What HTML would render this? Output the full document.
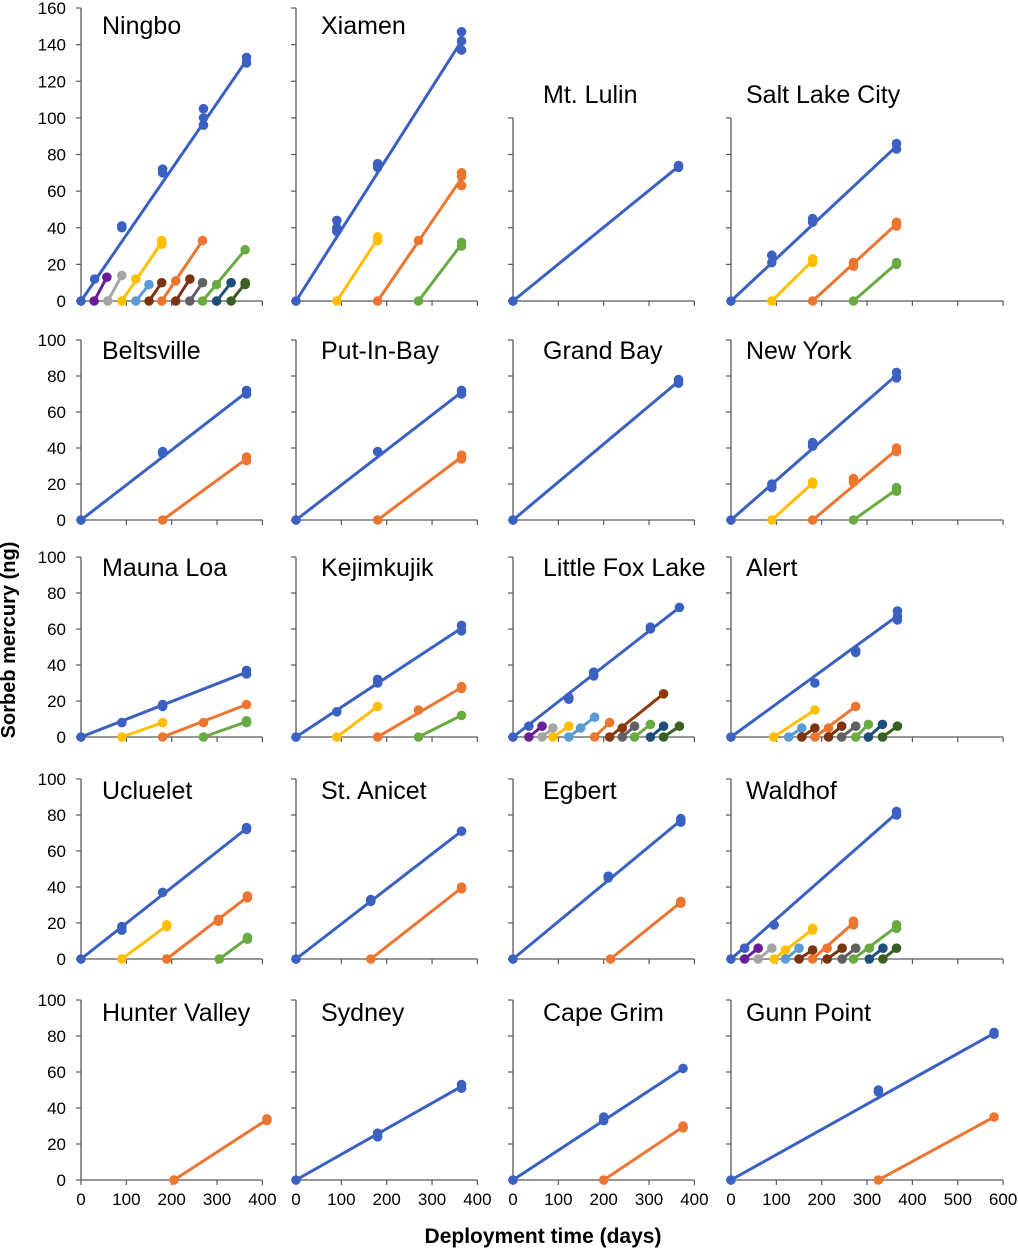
<!DOCTYPE html>
<html><head><meta charset="utf-8"><style>
body{margin:0;background:#fff;}
svg{display:block;font-family:"Liberation Sans",sans-serif;}
</style></head><body>
<svg id="chart" width="1018" height="1250" viewBox="0 0 1018 1250" xmlns="http://www.w3.org/2000/svg">
<text x="0" y="0" transform="translate(15,640) rotate(-90)" text-anchor="middle" font-size="20" font-weight="bold" fill="#000">Sorbeb mercury (ng)</text>
<text x="543" y="1243" text-anchor="middle" font-size="21" font-weight="bold" fill="#000">Deployment time (days)</text>
</svg>
<script>
const C={b:'#3a60c2',o:'#ec7530',y:'#ffbf00',g:'#a5a5a5',lb:'#5b9bd5',gr:'#6aaa42',p:'#6a1f9a',br:'#7a3410',br2:'#8c3a0b',dg:'#606060',nv:'#1f4e7a',dgr:'#3b5e24'};
const panelNames=['Ningbo','Xiamen','Mt. Lulin','Salt Lake City','Beltsville','Put-In-Bay','Grand Bay','New York','Mauna Loa','Kejimkujik','Little Fox Lake','Alert','Ucluelet','St. Anicet','Egbert','Waldhof','Hunter Valley','Sydney','Cape Grim','Gunn Point'];
const ningbo=[['b',[[0,0],[30,12],[90,41],[90,40],[180,72],[180,70],[270,105],[270,100],[270,96],[365,133],[365,130]]],['p',[[29,0],[57,13]]],['g',[[59,0],[90,14]]],['y',[[90,0],[121,12],[178,33],[178,31]]],['lb',[[121,0],[150,9]]],['br',[[150,0],[178,10]]],['o',[[178,0],[209,11],[268,33]]],['br',[[209,0],[240,12]]],['dg',[[240,0],[268,10]]],['gr',[[268,0],[299,9],[362,28]]],['nv',[[299,0],[331,10]]],['dgr',[[331,0],[362,10],[362,9]]]];
const xiamen=[['b',[[0,0],[90,44],[90,40],[90,38],[180,75],[180,73],[365,147],[365,142],[365,137]]],['y',[[90,0],[180,35],[180,33]]],['o',[[180,0],[270,33],[365,70],[365,68],[365,63]]],['gr',[[270,0],[365,32],[365,30]]]];
const mtLulin=[['b',[[0,0],[365,74],[365,73]]]];
const saltLake=[['b',[[0,0],[90,25],[90,21],[180,45],[180,43],[365,86],[365,83]]],['y',[[90,0],[180,23],[180,21]]],['o',[[180,0],[270,21],[270,19],[365,43],[365,41]]],['gr',[[270,0],[365,21],[365,20]]]];
const beltsville=[['b',[[0,0],[180,38],[180,37],[365,72],[365,70]]],['o',[[180,0],[365,35],[365,33]]]];
const putInBay=[['b',[[0,0],[180,38],[365,72],[365,70]]],['o',[[180,0],[365,36],[365,34]]]];
const grandBay=[['b',[[0,0],[365,78],[365,76]]]];
const newYork=[['b',[[0,0],[90,20],[90,18],[180,43],[180,41],[365,82],[365,79]]],['y',[[90,0],[180,21],[180,20]]],['o',[[180,0],[270,23],[270,21],[365,40],[365,38]]],['gr',[[270,0],[365,18],[365,16]]]];
const maunaLoa=[['b',[[0,0],[90,8],[180,18],[180,17],[365,37],[365,35]]],['y',[[90,0],[180,8]]],['o',[[180,0],[270,8],[365,18]]],['gr',[[270,0],[365,9],[365,8]]]];
const kejimkujik=[['b',[[0,0],[90,14],[180,32],[180,30],[365,62],[365,59]]],['y',[[90,0],[180,17]]],['o',[[180,0],[270,15],[365,28],[365,27]]],['gr',[[270,0],[365,12]]]];
const littleFox=[['b',[[0,0],[35,6],[123,22],[123,21],[178,36],[178,34],[303,61],[303,60],[367,72]]],['p',[[35,0],[64,6]]],['g',[[64,0],[88,5]]],['y',[[88,0],[123,6]]],['lb',[[123,0],[149,5],[180,11]]],['o',[[180,0],[213,8]]],['br2',[[213,0],[241,5],[332,24]]],['dg',[[241,0],[268,6]]],['gr',[[268,0],[303,7]]],['nv',[[303,0],[332,6]]],['dgr',[[332,0],[367,6]]]];
const alert_=[['b',[[0,0],[185,30],[275,48],[275,47],[367,70],[367,67],[367,65]]],['y',[[94,0],[185,15]]],['lb',[[127,0],[156,5]]],['br',[[156,0],[185,5]]],['o',[[185,0],[215,5],[275,17]]],['br',[[215,0],[244,6]]],['dg',[[244,0],[275,6]]],['gr',[[275,0],[303,7]]],['nv',[[303,0],[334,7]]],['dgr',[[334,0],[367,6]]]];
const ucluelet=[['b',[[0,0],[90,18],[90,16],[180,37],[365,73],[365,72]]],['y',[[90,0],[189,19],[189,18]]],['o',[[189,0],[303,22],[303,21],[367,35],[367,34]]],['gr',[[305,0],[367,12],[367,11]]]];
const stAnicet=[['b',[[0,0],[165,33],[165,32],[365,71]]],['o',[[165,0],[365,40],[365,39]]]];
const egbert=[['b',[[0,0],[210,46],[210,45],[370,78],[370,76]]],['o',[[215,0],[370,32],[370,31]]]];
const waldhof=[['b',[[0,0],[30,6],[95,19],[365,82],[365,80]]],['p',[[30,0],[60,6]]],['g',[[60,0],[90,6]]],['y',[[95,0],[120,5],[180,17],[180,16]]],['lb',[[120,0],[150,6]]],['br',[[150,0],[180,5]]],['o',[[180,0],[212,6],[270,21],[270,19]]],['br',[[212,0],[245,6]]],['dg',[[245,0],[275,6]]],['gr',[[270,0],[305,6],[365,19],[365,17]]],['nv',[[305,0],[335,6]]],['dgr',[[335,0],[365,6]]]];
const hunterValley=[['o',[[205,0],[410,34],[410,33]]]];
const sydney=[['b',[[0,0],[180,26],[180,24],[365,53],[365,51]]]];
const capeGrim=[['b',[[0,0],[200,35],[200,33],[375,62]]],['o',[[200,0],[375,30],[375,29]]]];
const gunnPoint=[['b',[[0,0],[325,50],[325,49],[580,82],[580,81]]],['o',[[325,0],[580,35]]]];
const panelData=[ningbo,xiamen,mtLulin,saltLake,beltsville,putInBay,grandBay,newYork,maunaLoa,kejimkujik,littleFox,alert_,ucluelet,stAnicet,egbert,waldhof,hunterValley,sydney,capeGrim,gunnPoint];
const yMaxes=[160,160,100,100,100,100,100,100,100,100,100,100,100,100,100,100,100,100,100,100];
const xMaxes=[400,400,400,600];
const colX0=[81,296,513,731], rowY0=[301,520,737,959,1180];
const titleX=[102,321,543,746], titleY=[34,359,576,799,1021];
const XS=0.4535;
const svg=document.getElementById('chart');
const NS='http://www.w3.org/2000/svg';
function mk(tag,attrs,parent){const e=document.createElementNS(NS,tag);for(const k in attrs)e.setAttribute(k,attrs[k]);(parent||svg).appendChild(e);return e;}
panelData.forEach((series,i)=>{
  const r=Math.floor(i/4), c=i%4;
  const x0=colX0[c], y0=rowY0[r], ys=(r===0?293/160:1.8), ymax=yMaxes[i];
  const xf=v=>x0+v*XS, yf=v=>y0-v*ys;
  const slug=panelNames[i].toLowerCase().replace(/[^a-z]+/g,'-').replace(/-$/,'');
  const g=mk('g',{});
  
  
  const ya=mk('line',{x1:x0,y1:yf(ymax),x2:x0,y2:y0,stroke:'#595959','stroke-width':1.3},g);
  
  
  for(let t=0;t<=ymax;t+=20){
    const tk=mk('line',{x1:x0-5,y1:yf(t),x2:x0,y2:yf(t),stroke:'#595959','stroke-width':1.2},g);
    
    
    if(c===0){const tl=mk('text',{x:x0-15,y:yf(t)+6,'text-anchor':'end','font-size':17,fill:'#000'},g);tl.textContent=t;
      
      }
  }
  const xm=xMaxes[c];
  const xa=mk('line',{x1:x0,y1:y0,x2:xf(xm),y2:y0,stroke:'#595959','stroke-width':1.3},g);
  
  
  for(let t=0;t<=xm;t+=100){
    const tk=mk('line',{x1:xf(t),y1:y0,x2:xf(t),y2:y0+5,stroke:'#595959','stroke-width':1.2},g);
    
    
    if(r===4){const tl=mk('text',{x:xf(t),y:y0+25,'text-anchor':'middle','font-size':17,fill:'#000'},g);tl.textContent=t;
      
      }
  }
  const ty=(r===0&&c>=2)?103:titleY[r];
  const tt=mk('text',{x:titleX[c],y:ty,'font-size':25,fill:'#000'},g);
  tt.textContent=panelNames[i];
  
  
  series.forEach(([col,pts])=>{
    const color=C[col];
    const lastX=Math.max(...pts.map(p=>p[0]));
    const ends=pts.filter(p=>p[0]===lastX);
    const endY=ends.reduce((s,p)=>s+p[1],0)/ends.length;
    const ln=mk('line',{x1:xf(pts[0][0]),y1:yf(pts[0][1]),x2:xf(lastX),y2:yf(endY),stroke:color,'stroke-width':3},g);
    
    
    pts.forEach(p=>{
      const pt=mk('circle',{cx:xf(p[0]),cy:yf(p[1]),r:4.8,fill:color},g);
      
      
    });
  });
});
</script>
</body></html>
